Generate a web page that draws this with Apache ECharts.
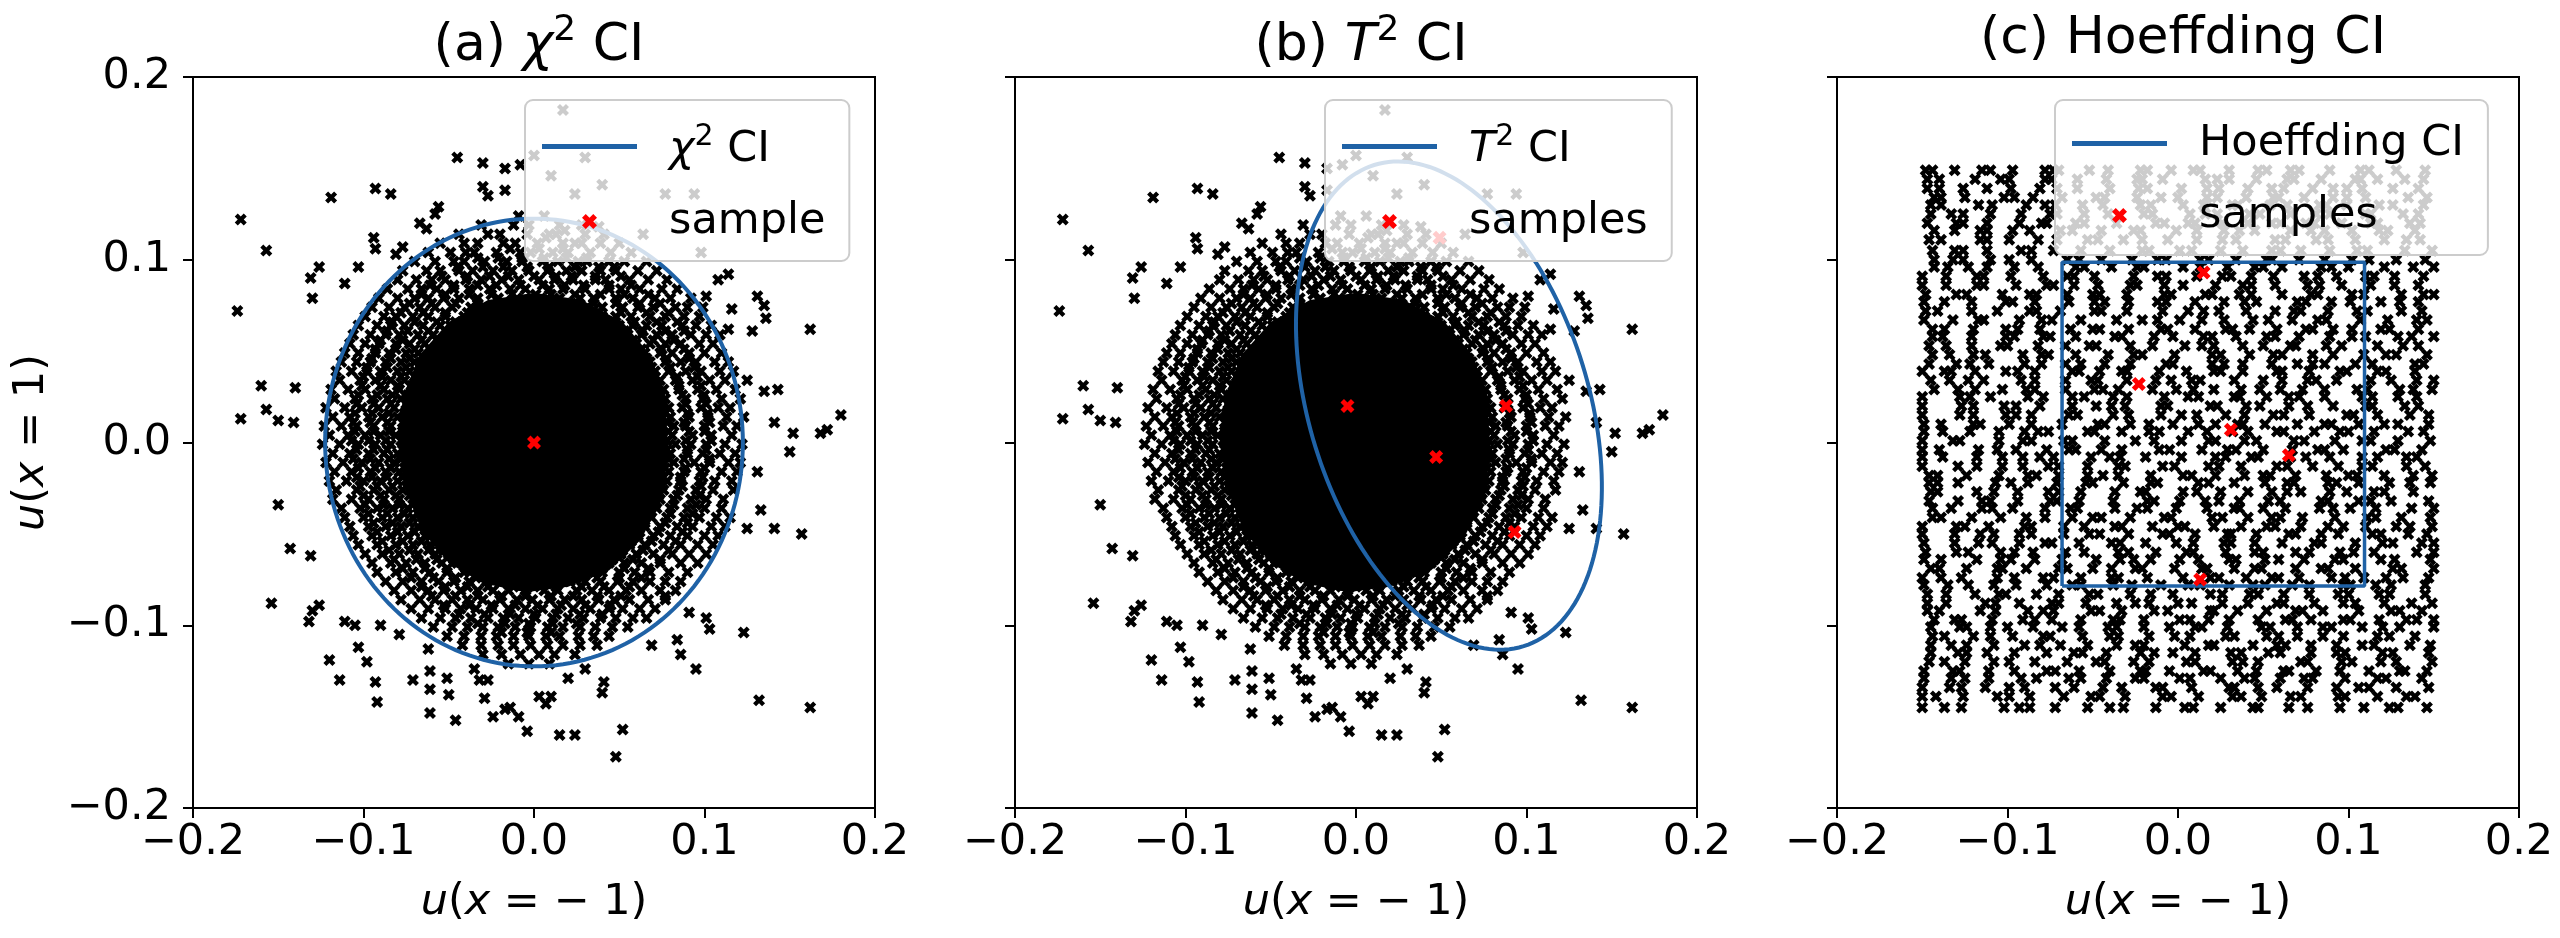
<!DOCTYPE html>
<html>
<head>
<meta charset="utf-8">
<script src="https://cdn.jsdelivr.net/npm/echarts@6/dist/echarts.min.js"></script>
<style>
html, body { margin: 0; padding: 0; background: #fff; }
#main { width: 2560px; height: 938px; }
</style>
</head>
<body>
<div id="main"></div>
<script>
// axis ticks shared by all three panels
var ticks = [-0.2, -0.1, 0.0, 0.1, 0.2];
var titles = ['(a) ', '(b) ', '(c) '];

// bootstrap cloud shared by panel (a) and (b), values in 1e-3 units
// solid black middle of the cloud, outline
var cloudCore = [[0,82],[28,78],[52,66],[69,47],[77,20],[79,-5],[75,-30],[63,-53],[44,-70],[20,-79],
  [-5,-82],[-30,-77],[-50,-66],[-66,-48],[-76,-24],[-79,0],[-77,25],[-67,48],[-50,66],[-27,78]];
// dense ring around the core: each row is [y, x, x, ...]
var cloudRows = [
  [124,-9,6],
  [119,-31,-12,-3,15,28],
  [114,-44,-27,-20,-4,9,13,30,41],
  [109,-55,-41,-33,-18,-11,2,17,24,39,50],
  [104,-62,-49,-40,-35,-22,-8,-2,11,20,33,45,57],
  [99,-70,-58,-47,-41,-29,-16,-7,5,14,26,31,44,53,66],
  [94,-77,-63,-55,-44,-36,-24,-13,-3,8,19,28,39,48,61,72],
  [89,-80,-69,-60,-52,-40,-31,-19,-9,3,12,23,36,42,56,67,78],
  [84,-86,-74,-66,-57,-47,-38,-26,-14,-5,9,17,30,44,51,62,75,84],
  [79,-91,-80,-70,-62,-53,-44,-33,-21,-10,4,15,27,35,48,58,71,80,92],
  [74,-95,-85,-76,-67,-58,-48,-37,-29,31,40,52,61,70,83,90,99],
  [69,-99,-88,-81,-71,-62,-52,-41,40,48,57,68,77,88,97],
  [64,-103,-92,-84,-76,-65,-55,-49,50,58,66,75,87,95,104],
  [59,-106,-96,-87,-79,-68,-59,55,63,72,81,92,101,109],
  [54,-108,-99,-91,-81,-73,-64,60,68,77,86,97,105],
  [49,-111,-103,-93,-85,-75,-68,65,74,81,91,100,110],
  [44,-113,-104,-96,-87,-78,-70,68,77,86,95,106,114],
  [39,-116,-107,-98,-90,-80,-73,71,79,89,98,109,117],
  [34,-114,-102,-93,-84,-76,74,83,93,103,112],
  [29,-119,-109,-99,-88,-79,76,85,96,107,118],
  [24,-117,-105,-95,-86,-78,77,89,99,110,121],
  [19,-122,-111,-101,-91,-82,79,87,98,108,115],
  [14,-118,-108,-97,-89,-80,80,91,102,113,123],
  [9,-123,-113,-104,-94,-84,82,89,100,111,119],
  [4,-120,-109,-99,-90,-81,81,93,104,116],
  [-1,-124,-114,-103,-93,-84,83,92,101,112,122],
  [-6,-118,-108,-97,-88,-80,80,90,99,109,118],
  [-11,-122,-112,-101,-91,-82,82,94,103,114,121],
  [-16,-117,-107,-96,-87,-79,79,88,98,110,119],
  [-21,-120,-110,-100,-90,-80,78,86,97,106,116],
  [-26,-116,-104,-94,-85,-77,76,85,95,105,117],
  [-31,-118,-107,-97,-88,-79,74,82,92,101,111],
  [-36,-113,-102,-92,-83,-74,72,80,90,100,110],
  [-41,-111,-100,-89,-80,-71,69,78,88,97,107,115],
  [-46,-108,-97,-87,-78,-68,65,74,84,93,104,112],
  [-51,-106,-95,-84,-74,-64,61,70,80,90,100,108],
  [-56,-103,-92,-81,-71,-61,-55,56,65,76,86,96,105],
  [-61,-99,-89,-79,-68,-58,-50,51,60,70,81,91,101],
  [-66,-95,-84,-75,-64,-54,-45,44,53,63,74,86,96],
  [-71,-92,-81,-71,-61,-51,-41,-33,32,40,50,59,68,79,90],
  [-76,-87,-77,-66,-56,-47,-38,-28,-19,21,30,39,49,58,68,77,86],
  [-81,-82,-72,-62,-53,-43,-33,-24,-15,-5,6,14,25,34,44,54,63,74,83],
  [-86,-78,-67,-58,-48,-39,-30,-20,-10,-1,9,18,28,38,47,56,67,77],
  [-91,-72,-62,-52,-43,-34,-24,-15,-5,5,14,23,33,44,52,62,71],
  [-96,-66,-55,-46,-37,-27,-18,-9,1,11,20,29,39,48,58,66],
  [-101,-59,-48,-39,-30,-21,-11,-2,8,17,27,36,46,55],
  [-106,-51,-41,-31,-22,-12,-3,7,15,26,35,44],
  [-111,-42,-31,-21,-12,-2,8,17,27,37],
  [-116,-30,-19,-8,3,12,24],
  [-121,-15,-3,9]
];
// extra points filling the inner part of the ring
var cloudFill = [
  [106,-14,3,17],
  [101,-33,-21,-7,6,19,31],
  [96,-45,-30,-18,-4,9,24,38,47],
  [91,-54,-39,-26,-15,0,13,22,36,51],
  [86,-61,-47,-33,-22,-8,5,18,29,44,57],
  [81,-66,-52,-38,-25,-13,1,10,24,39,53,67],
  [76,-73,-60,-46,-33,-21,22,35,48,62,74],
  [71,-78,-65,-52,-39,38,51,66,79],
  [66,-83,-70,-57,-46,47,59,72,84],
  [61,-86,-74,-62,-52,53,64,77,88],
  [56,-90,-77,-66,-57,58,70,82],
  [51,-93,-81,-70,-61,63,75,88],
  [46,-95,-84,-73,-64,66,78,91],
  [41,-98,-86,-75,-67,69,80,94],
  [36,-100,-89,-78,-70,71,84,96],
  [31,-101,-90,-80,-72,73,85,98],
  [26,-103,-92,-83,-74,75,87,100],
  [21,-104,-94,-84,-75,76,89,101],
  [16,-105,-95,-85,-76,77,90,102],
  [11,-106,-96,-86,-77,78,88,103],
  [6,-105,-94,-85,-77,79,91,100],
  [1,-107,-97,-87,-78,78,89,104],
  [-4,-104,-94,-86,-77,78,90,101],
  [-9,-106,-96,-85,-78,79,88,103],
  [-14,-103,-93,-84,-76,77,89,100],
  [-19,-104,-95,-86,-77,76,86,99],
  [-24,-102,-92,-83,-75,75,87,98],
  [-29,-100,-90,-81,-73,73,84,97],
  [-34,-99,-88,-79,-71,71,82,95],
  [-39,-97,-86,-76,-68,68,80,93],
  [-44,-94,-83,-73,-65,65,77,90],
  [-49,-92,-80,-70,-61,62,73,87],
  [-54,-89,-77,-66,-57,57,69,83],
  [-59,-85,-73,-62,-53,52,64,79],
  [-64,-82,-69,-57,-47,46,58,74],
  [-69,-77,-64,-51,-40,40,53,67],
  [-74,-72,-59,-46,-34,-24,25,37,50,63],
  [-79,-66,-52,-39,-27,-12,0,13,28,41,56],
  [-84,-60,-46,-33,-19,-5,10,23,37,51],
  [-89,-53,-38,-25,-11,2,16,30,45],
  [-94,-44,-29,-14,0,13,27,40],
  [-99,-33,-17,-3,11,25],
  [-104,-19,-4,10]
];
// sparse outliers
var cloudOut = [[-172,122],[-157,105],[-174,72],[-119,134],[-93,139],[-84,136],[-45,156],[-30,153],[-17,150],[-8,152],
  [17,182],[0,157],[30,156],[10,146],[24,136],[40,141],[77,136],[94,136],[64,114],[98,104],[7,112],[18,116],[28,109],[38,118],
  [-30,140],[-27,135],[-17,138],[-56,129],[-58,125],[-67,120],[-63,117],[-94,112],[-93,106],[-77,107],[-81,103],
  [-131,90],[-126,96],[-103,96],[-130,79],[-111,87],[108,89],[114,92],[131,80],[135,75],[136,68],[116,73],[101,80],
  [162,62],[128,61],[114,62],[-160,31],[-140,30],[-172,13],[-157,18],[-150,12],[-141,11],[125,34],[135,28],[143,29],
  [180,15],[168,5],[172,7],[152,5],[150,-5],[141,11],
  [-150,-34],[-143,-58],[-154,-88],[-131,-62],[-126,-89],[-130,-92],[-132,-98],[-111,-98],[-105,-100],[-120,-119],
  [-114,-130],[-103,-112],[-98,-120],[-93,-131],[-92,-142],[-90,-100],[-79,-105],[-71,-130],[-61,-125],[-61,-135],
  [-61,-148],[-62,-113],[-51,-129],[-50,-138],[-46,-152],[-35,-124],[-32,-130],[-27,-130],[-29,-140],[-24,-150],
  [-17,-146],[-14,-145],[-9,-150],[-4,-158],[3,-139],[10,-139],[7,-143],[15,-160],[24,-160],[20,-129],[30,-124],
  [40,-137],[41,-131],[52,-157],[48,-172],[69,-111],[84,-108],[86,-116],[95,-124],[123,-104],[132,-141],[162,-145],
  [157,-50],[141,-47],[125,-47],[133,-37],[131,-16],[91,-93],[101,-96],[103,-102],[77,-84]];

// uniform cloud of panel (c): each row is [y, x, x, ...] in 1e-3 units
var cRows = [
  [149,-148,-144,-131,-115,-110,-97,-78,-73,-70,-52,-41,-22,-18,-4,9,13,30,47,52,66,71,89,107,112,128,145],
  [39,-150,-137,-133,-119,-101,-94,-84,-62,-58,-46,-33,-30,-11,5,21,25,38,58,61,77,95,99,117,122,139],
  [-69,-145,-140,-124,-106,-103,-89,-70,-65,-50,-39,-25,-21,-2,14,17,33,45,49,69,84,88,104,126,131,150],
  [120,-147,-130,-126,-112,-93,-80,-77,-60,-55,-36,-13,-8,6,10,26,41,55,60,75,80,96,113,117,136,142],
  [10,-149,-139,-120,-116,-99,-86,-68,-47,-43,-28,-17,-3,12,22,35,38,51,70,86,90,106,121,129,147],
  [-97,-143,-131,-127,-109,-91,-84,-74,-57,-38,-34,-20,1,7,18,30,47,63,67,78,97,101,118,134,140,150],
  [91,-150,-136,-118,-114,-98,-79,-65,-61,-49,-26,-12,-7,11,26,31,43,56,74,82,93,110,115,127,144],
  [-18,-146,-141,-124,-105,-88,-83,-70,-53,-44,-35,-16,3,8,22,39,50,54,69,87,100,105,121,138,149],
  [-125,-149,-132,-128,-111,-96,-77,-72,-58,-40,-22,-19,-5,15,19,35,46,62,65,81,95,112,130,133,146],
  [62,-144,-137,-120,-101,-94,-81,-63,-50,-46,-29,-10,-6,10,28,32,42,58,75,79,91,102,119,124,141],
  [-46,-150,-130,-125,-111,-90,-86,-67,-55,-37,-33,-15,0,4,21,37,52,57,72,88,97,110,128,136,149],
  [144,-147,-140,-119,-104,-99,-78,-74,-59,-42,-24,-21,-9,16,23,30,46,64,68,84,104,107,117,133,144],
  [34,-145,-134,-123,-114,-92,-84,-66,-51,-47,-30,-13,-4,8,13,33,50,61,76,81,93,113,125,140,150],
  [-74,-150,-139,-127,-106,-96,-79,-73,-57,-39,-35,-18,3,19,24,40,55,59,71,90,98,109,122,132,147],
  [116,-143,-131,-116,-112,-97,-87,-69,-62,-45,-26,-22,-1,11,27,36,45,66,78,86,102,118,123,139],
  [6,-149,-138,-122,-105,-90,-82,-76,-53,-49,-33,-17,-11,6,17,32,41,58,62,80,95,100,115,135,144],
  [-101,-145,-128,-124,-110,-100,-85,-68,-58,-41,-36,-20,-5,10,14,29,49,54,70,85,90,108,120,130,150],
  [86,-150,-136,-118,-114,-95,-77,-73,-61,-47,-28,-24,-8,3,22,38,43,57,76,83,96,113,127,141],
  [-22,-146,-141,-129,-107,-98,-88,-71,-54,-50,-32,-16,-12,12,18,33,51,64,68,88,93,106,124,136,148],
  [-129,-149,-133,-125,-111,-92,-83,-64,-57,-42,-25,-20,1,7,25,39,45,60,74,79,98,117,122,143],
  [58,-144,-138,-121,-101,-96,-79,-75,-60,-37,-33,-14,-3,15,20,34,52,57,71,89,102,110,129,137,150],
  [-50,-150,-131,-116,-108,-93,-86,-67,-52,-46,-29,-9,-5,10,29,31,46,65,69,84,94,114,119,135,146],
  [139,-147,-140,-126,-112,-98,-81,-71,-59,-40,-23,-18,2,17,24,41,55,62,79,91,99,108,126,141],
  [29,-143,-129,-119,-103,-89,-84,-66,-49,-44,-35,-15,-1,9,21,37,48,60,73,86,105,111,130,138,149],
  [-78,-149,-135,-123,-108,-95,-77,-62,-57,-38,-27,-10,6,13,30,44,51,67,77,97,101,116,125,145],
  [111,-146,-139,-116,-112,-99,-82,-71,-53,-47,-32,-21,-6,11,26,34,57,63,81,88,104,121,134,142],
  [1,-150,-132,-128,-105,-91,-86,-67,-62,-43,-25,-14,2,18,22,39,46,68,74,92,108,113,129,148],
  [-106,-144,-137,-120,-110,-97,-79,-75,-56,-40,-35,-17,-2,7,28,33,52,59,70,85,97,117,124,139],
  [81,-148,-130,-124,-103,-87,-83,-65,-50,-46,-30,-8,-4,16,20,36,43,61,78,82,102,109,131,144,150],
  [-27,-145,-141,-118,-108,-94,-76,-70,-57,-37,-22,-19,3,11,25,41,55,64,72,89,99,115,121,138],
  [-134,-150,-134,-127,-113,-99,-90,-72,-61,-44,-33,-13,-9,8,30,33,47,58,76,93,106,112,128,147],
  [53,-146,-136,-121,-104,-100,-82,-66,-52,-48,-28,-15,4,14,21,38,50,66,69,87,96,117,132,141],
  [-55,-149,-131,-117,-109,-93,-78,-74,-58,-39,-34,-19,-1,9,27,31,45,61,80,84,104,120,126,143,150],
  [134,-143,-139,-125,-102,-96,-85,-68,-48,-43,-24,-10,0,17,23,40,56,59,74,91,99,110,135,146],
  [25,-150,-128,-122,-110,-88,-79,-62,-55,-38,-30,-8,6,12,33,36,52,65,71,86,108,114,129,140],
  [-83,-147,-136,-119,-105,-101,-83,-70,-52,-47,-28,-16,-3,19,26,42,47,62,77,94,100,118,124,145],
  [105,-144,-131,-126,-112,-92,-86,-73,-57,-40,-21,-17,1,8,25,38,55,60,72,89,105,111,133,149],
  [-4,-150,-140,-117,-106,-95,-77,-64,-60,-45,-33,-11,-5,14,29,34,50,67,82,86,97,122,127,143],
  [-111,-145,-133,-124,-108,-90,-81,-69,-53,-36,-25,-20,4,18,21,44,58,63,78,93,108,115,136,148],
  [77,-149,-137,-121,-101,-97,-84,-64,-49,-43,-29,-12,-7,10,27,39,46,70,75,90,101,119,130,141],
  [-32,-146,-129,-115,-110,-94,-75,-71,-58,-38,-18,-14,1,16,24,36,53,60,84,88,106,113,125,147],
  [-139,-150,-142,-126,-106,-99,-87,-67,-51,-46,-31,-9,-4,12,32,37,49,66,72,94,98,117,134,139],
  [48,-144,-134,-120,-113,-91,-80,-76,-60,-41,-26,-21,-2,20,25,42,56,61,79,91,109,122,128,146],
  [-60,-148,-130,-123,-104,-96,-85,-66,-55,-35,-29,-13,5,9,28,45,50,69,77,95,103,115,140,150],
  [130,-145,-139,-117,-109,-89,-78,-72,-56,-44,-22,-16,3,15,32,35,54,64,83,87,99,118,126,144],
  [20,-150,-127,-120,-102,-95,-81,-62,-48,-39,-31,-10,-6,19,23,40,48,65,76,91,110,114,133,141],
  [-88,-147,-136,-113,-107,-93,-74,-70,-54,-36,-25,-17,0,8,26,41,58,62,80,97,104,121,137,149],
  [100,-143,-132,-126,-110,-99,-86,-65,-58,-45,-27,-12,-7,13,18,34,52,55,71,86,102,112,128,145],
  [-8,-150,-138,-118,-103,-91,-81,-73,-51,-40,-34,-19,2,22,28,43,47,66,75,89,108,117,134,140],
  [-115,-145,-129,-124,-112,-96,-77,-61,-56,-42,-22,-14,-3,10,31,37,53,60,78,93,98,120,126,147],
  [72,-148,-141,-121,-106,-87,-83,-69,-49,-45,-30,-9,6,15,24,40,57,68,72,88,105,111,131,143],
  [-36,-144,-133,-115,-109,-97,-78,-63,-59,-37,-24,-18,-1,17,33,36,50,63,83,91,101,116,137,150],
  [-145,-150,-137,-127,-102,-93,-87,-72,-53,-40,-32,-13,4,9,25,44,47,65,76,95,109,124,129,146],
  [43,-146,-130,-122,-111,-90,-80,-66,-57,-43,-28,-7,-3,20,27,38,55,70,79,86,104,114,139,144],
  [-64,-149,-139,-118,-104,-98,-84,-68,-48,-34,-26,-16,1,12,30,34,51,59,74,92,97,119,127,148],
  [125,-145,-133,-126,-110,-92,-75,-71,-55,-41,-20,-15,7,16,23,42,48,66,81,89,110,113,132,141],
  [15,-150,-128,-120,-101,-95,-86,-64,-59,-38,-29,-10,2,11,28,39,56,62,77,99,103,117,136,147],
  [-92,-147,-140,-116,-107,-88,-79,-73,-51,-46,-33,-14,-6,19,21,35,52,69,73,85,106,125,130,143],
  [96,-143,-135,-123,-112,-96,-82,-60,-55,-39,-24,-20,3,13,29,45,50,61,84,90,100,121,138,150],
  [-13,-150,-129,-118,-103,-91,-76,-70,-53,-35,-31,-9,-2,18,24,37,58,64,79,94,108,114,134,145],
  [-120,-146,-137,-125,-108,-99,-84,-65,-48,-43,-26,-17,5,10,32,38,47,72,76,96,102,119,128,149],
  [67,-149,-132,-117,-114,-93,-80,-74,-57,-36,-21,-12,1,14,27,44,53,67,82,87,107,123,140,146],
  [-41,-144,-139,-121,-104,-89,-78,-62,-50,-45,-28,-8,-4,20,26,41,55,60,73,92,111,116,131,148]
];

// red samples
var samplesA = [[0.000, 0.000]];
var samplesB = [[-0.005, 0.020], [0.088, 0.020], [0.047, -0.008], [0.093, -0.049], [0.049, 0.112]];
var samplesC = [[0.015, 0.093], [-0.023, 0.032], [0.031, 0.007], [0.065, -0.007], [0.013, -0.075]];

// confidence regions: ellipse [cx, cy, semi-axis a, semi-axis b, rotation deg]
var circleA = [0.0, 0.0, 0.1225, 0.1225, 0];
var ellipseB = [0.0545, 0.0202, 0.1388, 0.0814, 109.6];
var boxC = [[-0.068, -0.0785], [0.1094, -0.0785], [0.1094, 0.0987], [-0.068, 0.0987], [-0.068, -0.0785]];

var FONT = 'DejaVu Sans';
var BLUE = '#1f62a6';
var RED = '#ff0000';
var X_MARK = 'path://M0,2.5L2.5,0L5,2.5L7.5,0L10,2.5L7.5,5L10,7.5L7.5,10L5,7.5L2.5,10L0,7.5L2.5,5Z';
var LINE_ICON = 'path://M0,0H95V5H0Z';

function milli(p) { return [p[0] / 1000, p[1] / 1000]; }
function fromRows(rows) {
    var out = [];
    rows.forEach(function (r) {
        for (var i = 1; i < r.length; i++) out.push([r[i] / 1000, r[0] / 1000]);
    });
    return out;
}
var cloudPts = fromRows(cloudRows).concat(fromRows(cloudFill), cloudOut.map(milli));
var corePts = cloudCore.map(milli);
var cPts = fromRows(cRows);

function richSet(size) {
    return {
        r: { fontSize: size, fontFamily: FONT, color: '#000', verticalAlign: 'bottom' },
        i: { fontSize: size, fontFamily: FONT, fontStyle: 'italic', color: '#000', verticalAlign: 'bottom' },
        s: { fontSize: Math.round(size * 0.7), fontFamily: FONT, color: '#000', verticalAlign: 'bottom',
             padding: [0, 0, Math.round(size * 0.45), 0] }
    };
}
var rich = richSet(43);
var richTitle = richSet(52);

var gridLeft = [193, 1015, 1837];
var grids = gridLeft.map(function (l) {
    return { left: l, top: 77, width: 682, height: 731, show: true, borderColor: '#000', borderWidth: 2 };
});

function tickFmt(v) {
    if (Math.abs(v) < 1e-9) return '0.0';
    return (v < 0 ? '\u2212' : '') + Math.abs(v).toFixed(1);
}

var xAxes = gridLeft.map(function (l, i) {
    return {
        gridIndex: i, type: 'value', min: ticks[0], max: ticks[ticks.length - 1], interval: 0.1,
        axisLine: { show: true, onZero: false, lineStyle: { color: '#000', width: 2 } },
        axisTick: { show: true, length: 10, lineStyle: { color: '#000', width: 2 } },
        axisLabel: { fontSize: 43, fontFamily: FONT, color: '#000', margin: 13, formatter: tickFmt },
        splitLine: { show: false },
        name: '{i|u}{r|(}{i|x}{r| = \u2212 1)}', nameLocation: 'middle', nameGap: 73,
        nameTextStyle: { fontSize: 43, fontFamily: FONT, color: '#000', rich: rich }
    };
});
var yAxes = gridLeft.map(function (l, i) {
    return {
        gridIndex: i, type: 'value', min: ticks[0], max: ticks[ticks.length - 1], interval: 0.1,
        axisLine: { show: true, onZero: false, lineStyle: { color: '#000', width: 2 } },
        axisTick: { show: true, length: 10, lineStyle: { color: '#000', width: 2 } },
        axisLabel: { show: i === 0, fontSize: 43, fontFamily: FONT, color: '#000', margin: 22, formatter: tickFmt },
        splitLine: { show: false },
        name: i === 0 ? '{i|u}{r|(}{i|x}{r| = 1)}' : '', nameLocation: 'middle', nameGap: 140, nameRotate: 90,
        nameTextStyle: { fontSize: 43, fontFamily: FONT, color: '#000', rich: rich }
    };
});

var titleText = [
    '{r|' + titles[0] + '}{i|\u03c7}{s|2}{r| CI}',
    '{r|' + titles[1] + '}{i|T}{s|2}{r| CI}',
    '{r|' + titles[2] + 'Hoeffding CI}'
];
var title = gridLeft.map(function (l, i) {
    return {
        text: titleText[i], left: l + 341, top: 8, textAlign: 'center',
        textStyle: { fontSize: 52, fontFamily: FONT, fontWeight: 'normal', color: '#000', rich: richTitle }
    };
});

var legendText = {
    'chi2 CI': '{i|\u03c7}{s|2}{r| CI}',
    'T2 CI': '{i|T}{s|2}{r| CI}',
    'Hoeffding CI': 'Hoeffding CI',
    'sample': 'sample',
    'samples': 'samples'
};
function legendBox(left, names) {
    return {
        left: left, top: 100, orient: 'vertical', itemWidth: 95, itemHeight: 15, itemGap: 29,
        padding: [22, 24, 18, 17], backgroundColor: 'rgba(255,255,255,0.8)',
        borderColor: '#cccccc', borderWidth: 2, borderRadius: 8, z: 10, selectedMode: false,
        textStyle: { fontSize: 43, fontFamily: FONT, color: '#000', padding: [0, 0, 0, 27], rich: rich },
        formatter: function (n) { return legendText[n]; },
        data: [
            { name: names[0], icon: LINE_ICON, itemStyle: { color: BLUE } },
            { name: names[1], icon: X_MARK, itemStyle: { color: RED, opacity: 1 } }
        ]
    };
}

function ellipseItem(params, api) {
    var cx = api.value(0), cy = api.value(1), a = api.value(2), b = api.value(3);
    var th = api.value(4) * Math.PI / 180;
    var pts = [];
    for (var k = 0; k <= 180; k++) {
        var t = k / 180 * 2 * Math.PI;
        pts.push(api.coord([
            cx + a * Math.cos(t) * Math.cos(th) - b * Math.sin(t) * Math.sin(th),
            cy + a * Math.cos(t) * Math.sin(th) + b * Math.sin(t) * Math.cos(th)
        ]));
    }
    return { type: 'polyline', shape: { points: pts }, style: { stroke: BLUE, lineWidth: 4, fill: null } };
}

function coreItem(params, api) {
    return {
        type: 'polygon',
        shape: { points: corePts.map(function (p) { return api.coord(p); }) },
        style: { fill: '#000' }
    };
}

function cloudSeries(i, pts, size) {
    return { type: 'scatter', xAxisIndex: i, yAxisIndex: i, data: pts, symbol: X_MARK, symbolSize: size,
        itemStyle: { color: '#000', opacity: 1 }, silent: true, z: 2, large: false };
}
function coreSeries(i) {
    return { type: 'custom', xAxisIndex: i, yAxisIndex: i, data: [[0, 0]], encode: { x: 0, y: 1 },
        renderItem: coreItem, silent: true, z: 2 };
}
function sampleSeries(i, name, pts) {
    return { type: 'scatter', name: name, xAxisIndex: i, yAxisIndex: i, data: pts, symbol: X_MARK,
        symbolSize: 14, itemStyle: { color: RED, opacity: 1 }, silent: true, z: 5 };
}
function ellipseSeries(i, name, e) {
    return { type: 'custom', name: name, xAxisIndex: i, yAxisIndex: i, data: [e], encode: { x: 0, y: 1 },
        renderItem: ellipseItem, itemStyle: { color: BLUE }, silent: true, z: 4 };
}

var myChart = echarts.init(document.getElementById('main'));
var option = {
    animation: false,
    backgroundColor: '#fff',
    title: title,
    grid: grids,
    xAxis: xAxes,
    yAxis: yAxes,
    legend: [
        legendBox(525, ['chi2 CI', 'sample']),
        legendBox(1325, ['T2 CI', 'samples']),
        legendBox(2055, ['Hoeffding CI', 'samples'])
    ],
    series: [
        coreSeries(0),
        cloudSeries(0, cloudPts, 12),
        ellipseSeries(0, 'chi2 CI', circleA),
        sampleSeries(0, 'sample', samplesA),
        coreSeries(1),
        cloudSeries(1, cloudPts, 12),
        ellipseSeries(1, 'T2 CI', ellipseB),
        sampleSeries(1, 'samples', samplesB),
        cloudSeries(2, cPts, 12),
        { type: 'line', name: 'Hoeffding CI', xAxisIndex: 2, yAxisIndex: 2, data: boxC, symbol: 'none',
          lineStyle: { color: BLUE, width: 3.5 }, itemStyle: { color: BLUE }, silent: true, z: 4 },
        sampleSeries(2, 'samples', samplesC)
    ]
};
myChart.setOption(option);
</script>
</body>
</html>
